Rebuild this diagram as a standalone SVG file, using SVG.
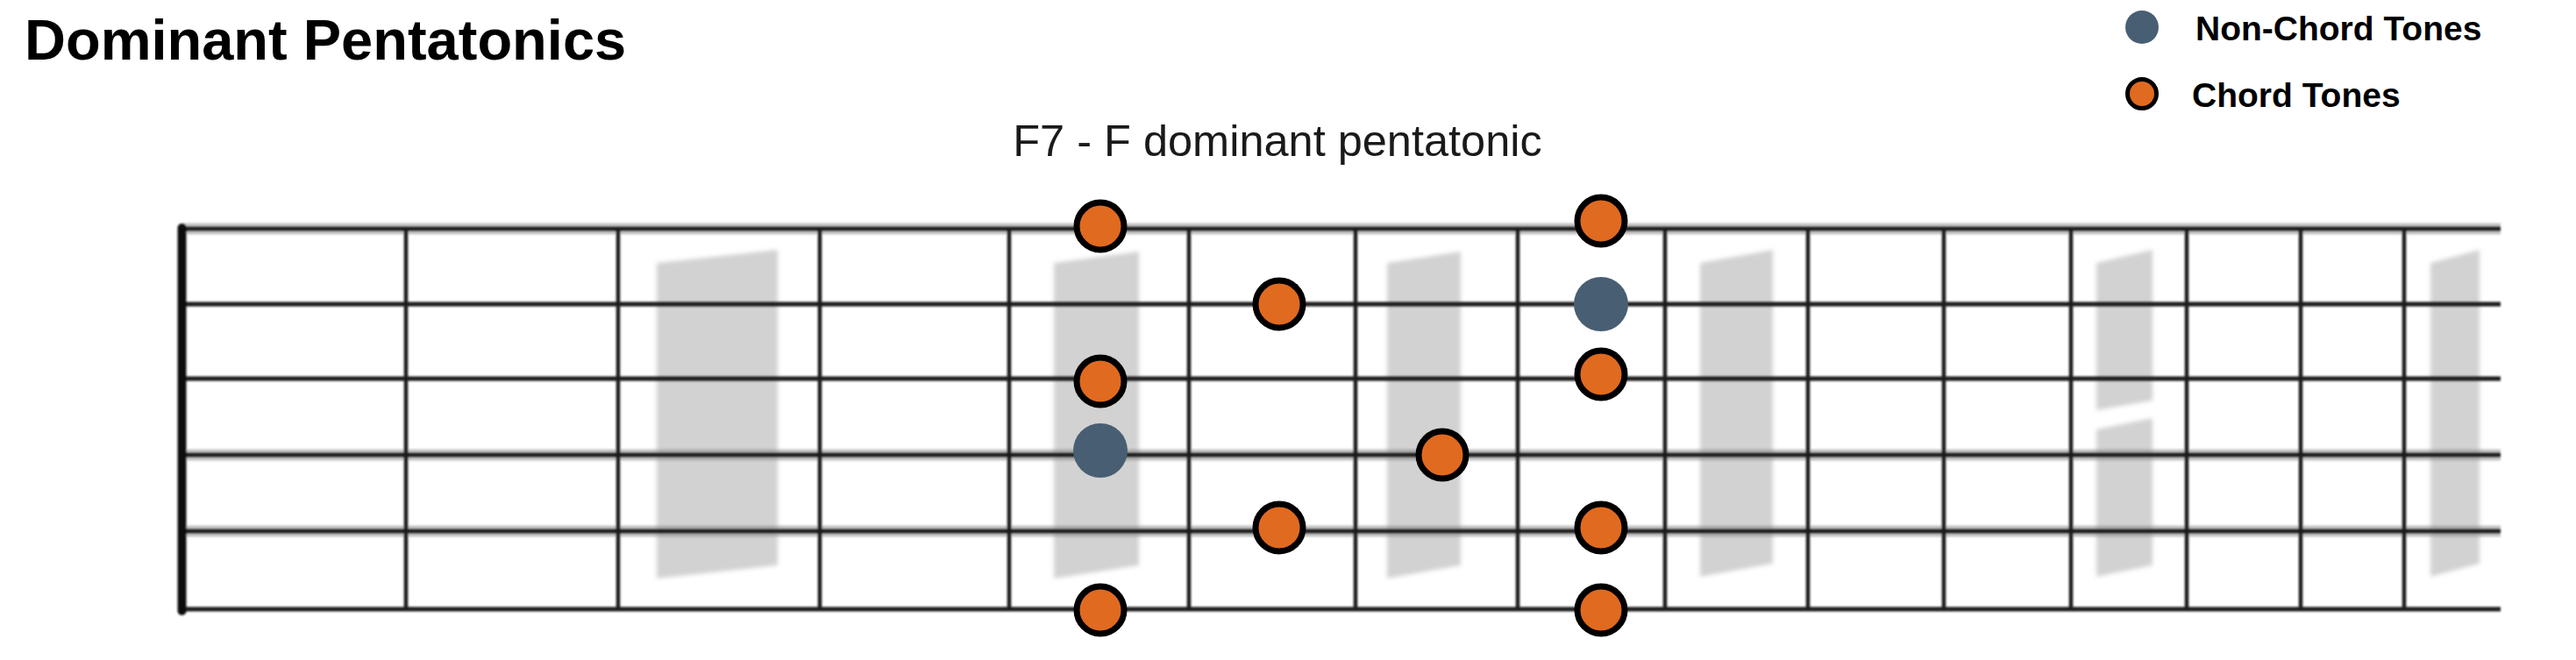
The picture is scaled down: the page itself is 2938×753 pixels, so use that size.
<svg xmlns="http://www.w3.org/2000/svg" width="2938" height="753" viewBox="0 0 2938 753">
  <defs>
    <style>
      .title { font-family: "Liberation Sans", Arial, sans-serif; font-weight: bold; font-size: 65px; fill: #000; }
      .sub { font-family: "Liberation Sans", Arial, sans-serif; font-size: 50.5px; fill: #1a1a1a; }
      .leg { font-family: "Liberation Sans", Arial, sans-serif; font-weight: bold; font-size: 39px; fill: #000; }
      .string { stroke: #1c1c1c; stroke-width: 5; fill: none; }
      .halo { stroke: #8a8a8a; stroke-width: 13; fill: none; opacity: 0.5; }
      .fret { stroke: #1c1c1c; stroke-width: 4.5; fill: none; }
      .inlay { fill: #d2d2d2; }
      .ct { fill: #E06A1F; stroke: #000; stroke-width: 7; }
      .nct { fill: #485E73; }
    </style>
    <filter id="soft" x="-5%" y="-5%" width="110%" height="110%">
      <feGaussianBlur stdDeviation="1.3"/>
    </filter>
    <filter id="softer" x="-5%" y="-5%" width="110%" height="110%">
      <feGaussianBlur stdDeviation="2.5"/>
    </filter>
  </defs>
  <rect width="2938" height="753" fill="#fff"/>

  <text class="title" x="28" y="68">Dominant Pentatonics</text>
  <text class="sub" x="1457" y="178" text-anchor="middle">F7 - F dominant pentatonic</text>

  <g id="legend">
    <circle class="nct" cx="2443" cy="31" r="19"/>
    <text class="leg" x="2504" y="46">Non-Chord Tones</text>
    <circle cx="2443" cy="107" r="16.5" fill="#E06A1F" stroke="#000" stroke-width="5"/>
    <text class="leg" x="2500" y="122">Chord Tones</text>
  </g>

  <g id="inlays" filter="url(#softer)">
    <polygon class="inlay" points="749,300 887,285 887,645 749,660"/>
    <polygon class="inlay" points="1202,300 1299,287 1299,645 1202,660"/>
    <polygon class="inlay" points="1582,300 1666,287 1666,645 1582,660"/>
    <polygon class="inlay" points="1939,300 2022,285 2022,643 1939,658"/>
    <polygon class="inlay" points="2391,300 2455,285 2455,457 2391,468"/>
    <polygon class="inlay" points="2391,490 2455,477 2455,645 2391,658"/>
    <polygon class="inlay" points="2772,300 2828,285 2828,643 2772,658"/>
  </g>

  <g id="fretboard" filter="url(#soft)">
    <g id="halos">
      <line class="halo" x1="208" y1="261" x2="2852" y2="261"/>
      <line class="halo" x1="208" y1="519" x2="2852" y2="519"/>
      <line class="halo" x1="208" y1="606" x2="2852" y2="606"/>
    </g>
    <g id="frets">
      <line class="fret" x1="463" y1="261" x2="463" y2="695"/>
      <line class="fret" x1="705" y1="261" x2="705" y2="695"/>
      <line class="fret" x1="935" y1="261" x2="935" y2="695"/>
      <line class="fret" x1="1151" y1="261" x2="1151" y2="695"/>
      <line class="fret" x1="1356" y1="261" x2="1356" y2="695"/>
      <line class="fret" x1="1546" y1="261" x2="1546" y2="695"/>
      <line class="fret" x1="1731" y1="261" x2="1731" y2="695"/>
      <line class="fret" x1="1899" y1="261" x2="1899" y2="695"/>
      <line class="fret" x1="2062" y1="261" x2="2062" y2="695"/>
      <line class="fret" x1="2217" y1="261" x2="2217" y2="695"/>
      <line class="fret" x1="2362" y1="261" x2="2362" y2="695"/>
      <line class="fret" x1="2494" y1="261" x2="2494" y2="695"/>
      <line class="fret" x1="2624" y1="261" x2="2624" y2="695"/>
      <line class="fret" x1="2742" y1="261" x2="2742" y2="695"/>
    </g>
    <g id="strings">
      <line class="string" x1="208" y1="261" x2="2852" y2="261"/>
      <line class="string" x1="208" y1="347" x2="2852" y2="347"/>
      <line class="string" x1="208" y1="432" x2="2852" y2="432"/>
      <line class="string" x1="208" y1="519" x2="2852" y2="519"/>
      <line class="string" x1="208" y1="606" x2="2852" y2="606"/>
      <line class="string" x1="208" y1="695" x2="2852" y2="695"/>
    </g>
    <line id="nut" x1="207.5" y1="260" x2="207.5" y2="697" stroke="#111" stroke-width="10" stroke-linecap="round"/>
  </g>

  <g id="connectors"></g>

  <g id="notes">
    <g id="n1"><circle class="ct" cx="1255" cy="258" r="27"/></g>
    <g id="n2"><circle class="ct" cx="1255" cy="435" r="27"/></g>
    <g id="n3"><circle class="nct" cx="1255" cy="514" r="31"/></g>
    <g id="n4"><circle class="ct" cx="1255" cy="696" r="27"/></g>
    <g id="n5"><circle class="ct" cx="1459" cy="347" r="27"/></g>
    <g id="n6"><circle class="ct" cx="1459" cy="602" r="27"/></g>
    <g id="n7"><circle class="ct" cx="1645" cy="519" r="27"/></g>
    <g id="n8"><circle class="ct" cx="1826" cy="252" r="27"/></g>
    <g id="n9"><circle class="nct" cx="1826" cy="347" r="31"/></g>
    <g id="n10"><circle class="ct" cx="1826" cy="427" r="27"/></g>
    <g id="n11"><circle class="ct" cx="1826" cy="602" r="27"/></g>
    <g id="n12"><circle class="ct" cx="1826" cy="696" r="27"/></g>
  </g>
</svg>
